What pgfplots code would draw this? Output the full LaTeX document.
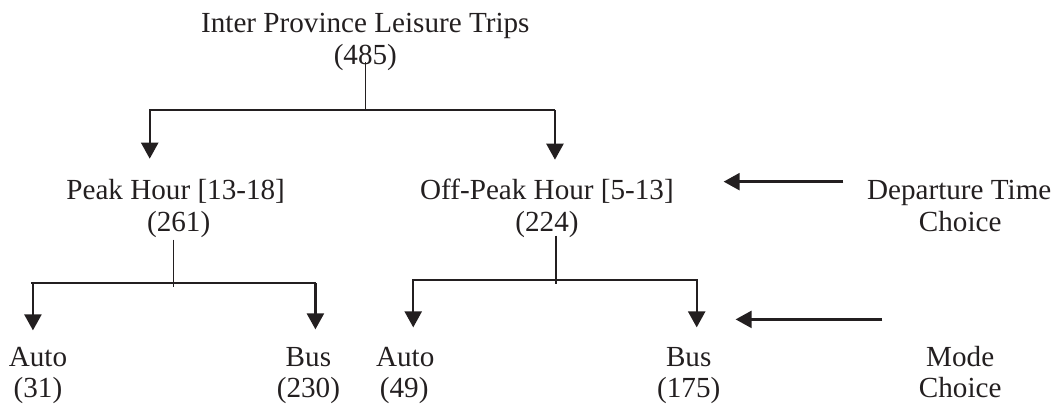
\documentclass[border=0pt]{standalone}
\usepackage{fontspec}
\setmainfont{Liberation Serif}
\usepackage{pgfplots}
\pgfplotsset{compat=1.18}
\usetikzlibrary{arrows.meta}
\definecolor{ink}{HTML}{231F20}
\newcommand{\lab}{\fontsize{14.6}{17}\selectfont}
\begin{document}
\begin{tikzpicture}
\begin{axis}[hide axis, scale only axis, width=529pt, height=203.5pt,
  xmin=0, xmax=1058, ymin=0, ymax=407, y dir=reverse, clip=false,
  every axis plot/.append style={no marks, color=ink}]
\path (rel axis cs:0,0) -- (rel axis cs:1,1);
% level 0 -> 1
\addplot[line width=0.75pt] coordinates {(366,62) (366,110)};
\addplot[line width=1pt] coordinates {(149.5,110) (556.5,110)};
\addplot[line width=1.2pt, -{Triangle[width=8.5pt,length=8pt]}] coordinates {(150,110) (150,159)};
\addplot[line width=1.2pt, -{Triangle[width=8.5pt,length=8pt]}] coordinates {(556,110) (556,160)};
% peak subtree
\addplot[line width=0.75pt] coordinates {(174,240) (174,288)};
\addplot[line width=1pt] coordinates {(31,284) (317,284)};
\addplot[line width=1.2pt, -{Triangle[width=8.5pt,length=8pt]}] coordinates {(33,284) (33,331)};
\addplot[line width=1.2pt, -{Triangle[width=8.5pt,length=8pt]}] coordinates {(316,284) (316,330)};
% off-peak subtree
\addplot[line width=0.75pt] coordinates {(557,236) (557,285)};
\addplot[line width=1pt] coordinates {(413,281) (699,281)};
\addplot[line width=1.2pt, -{Triangle[width=8.5pt,length=8pt]}] coordinates {(414,281) (414,328)};
\addplot[line width=1.2pt, -{Triangle[width=8.5pt,length=8pt]}] coordinates {(698,281) (698,328)};
% side arrows
\addplot[line width=1.2pt, -{Triangle[width=8.5pt,length=8pt]}] coordinates {(845,182) (725,182)};
\addplot[line width=1.2pt, -{Triangle[width=8.5pt,length=8pt]}] coordinates {(884,320) (737,320)};
% labels
\node[anchor=base, font=\lab, text=ink] at (axis cs:366,33) {Inter Province Leisure Trips};
\node[anchor=base, font=\lab, text=ink] at (axis cs:366,65) {(485)};
\node[anchor=base, font=\lab, text=ink] at (axis cs:176,200) {Peak Hour [13-18]};
\node[anchor=base, font=\lab, text=ink] at (axis cs:179,232) {(261)};
\node[anchor=base, font=\lab, text=ink] at (axis cs:548,200) {Off-Peak Hour [5-13]};
\node[anchor=base, font=\lab, text=ink] at (axis cs:548,232) {(224)};
\node[anchor=base, font=\lab, text=ink] at (axis cs:961,200) {Departure Time};
\node[anchor=base, font=\lab, text=ink] at (axis cs:962,232) {Choice};
\node[anchor=base, font=\lab, text=ink] at (axis cs:38,367) {Auto};
\node[anchor=base, font=\lab, text=ink] at (axis cs:38,398) {(31)};
\node[anchor=base, font=\lab, text=ink] at (axis cs:309,367) {Bus};
\node[anchor=base, font=\lab, text=ink] at (axis cs:309,398) {(230)};
\node[anchor=base, font=\lab, text=ink] at (axis cs:406,367) {Auto};
\node[anchor=base, font=\lab, text=ink] at (axis cs:405,398) {(49)};
\node[anchor=base, font=\lab, text=ink] at (axis cs:690,367) {Bus};
\node[anchor=base, font=\lab, text=ink] at (axis cs:690,398) {(175)};
\node[anchor=base, font=\lab, text=ink] at (axis cs:962,367) {Mode};
\node[anchor=base, font=\lab, text=ink] at (axis cs:962,398) {Choice};
\end{axis}
\end{tikzpicture}
\end{document}
